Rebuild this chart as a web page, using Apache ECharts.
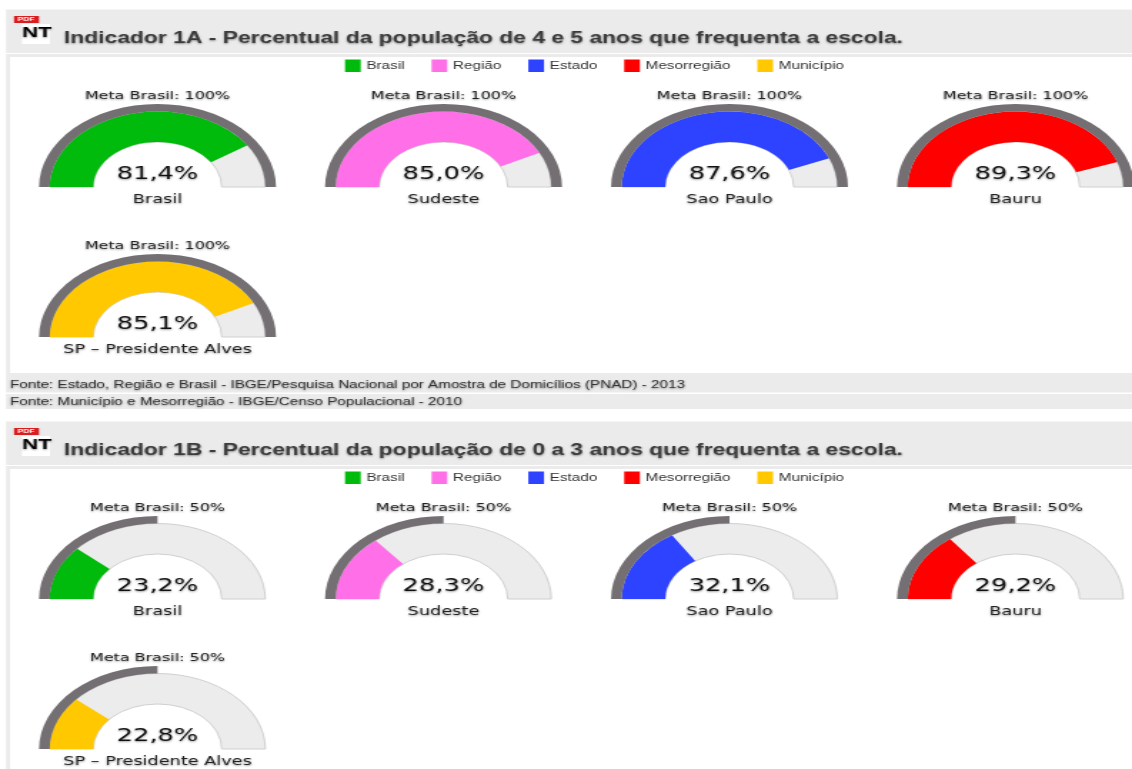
<!DOCTYPE html>
<html lang="pt">
<head>
    <meta charset="UTF-8">
    <title>Indicadores 1A e 1B</title>
    <script src="https://cdn.jsdelivr.net/npm/echarts@6/dist/echarts.min.js"></script>
    <style>
        html, body { margin: 0; padding: 0; background: #fff; overflow: hidden; width: 1132px; height: 769px; }
        /* o quadro original esta esticado na horizontal, por isso as meias-luas sao elipses */
        #main { width: 793px; height: 769px; transform: scaleX(1.4275); transform-origin: 0 0; }
    </style>
</head>
<body>
<div id="main"></div>
<script>
    var legendNames = ['Brasil', 'Região', 'Estado', 'Mesorregião', 'Município'];
    var places = ['Brasil', 'Sudeste', 'Sao Paulo', 'Bauru', 'SP – Presidente Alves'];
    var colors = ['#00bb0b', '#ff70e8', '#2d43ff', '#ff0000', '#ffc800'];
    var values1A = [81.4, 85.0, 87.6, 89.3, 85.1];
    var values1B = [23.2, 28.3, 32.1, 29.2, 22.8];
    var meta1A = 100;
    var meta1B = 50;
    var title1A = 'Indicador 1A - Percentual da população de 4 e 5 anos que frequenta a escola.';
    var title1B = 'Indicador 1B - Percentual da população de 0 a 3 anos que frequenta a escola.';
    var fontes1A = [
        'Fonte: Estado, Região e Brasil - IBGE/Pesquisa Nacional por Amostra de Domicílios (PNAD) - 2013',
        'Fonte: Município e Mesorregião - IBGE/Censo Populacional - 2010'
    ];

    var sx = 1.4275; // mesmo valor do scaleX do css
    var R_META = 83, R_TRACK = 75.5, R_HOLE = 45;
    var shadow = { textShadowColor: 'rgba(0,0,0,0.4)', textShadowBlur: 2, textShadowOffsetY: 1 };

    var series = [];
    var graphic = [];
    var legends = [];

    function rect(x, y, w, h, fill) {
        graphic.push({ type: 'rect', silent: true, shape: { x: x / sx, y: y, width: w / sx, height: h }, style: { fill: fill } });
    }
    function text(x, y, str, font, fill, align) {
        graphic.push({
            type: 'text', silent: true, x: x / sx, y: y,
            style: Object.assign({ text: str, font: font, fill: fill, align: align || 'center', verticalAlign: 'middle' }, shadow)
        });
    }
    function icon(y) {
        rect(14, y + 6, 25, 7, '#d81e1e');
        graphic.push({ type: 'text', silent: true, x: 26 / sx, y: y + 9.5, style: { text: 'PDF', font: 'bold 6px "Liberation Sans"', fill: '#fff', align: 'center', verticalAlign: 'middle' } });
        rect(22, y + 14, 28, 20, '#fff');
        text(37, y + 23, 'NT', 'bold 15.5px "Liberation Sans"', '#000');
    }

    function section(top, titleStr, values, meta) {
        rect(6, top + 9.5, 1126, 43.5, '#ebebeb');
        rect(6, top + 54, 1126, 319, '#ebebeb');
        rect(10, top + 57, 1122, 316, '#fff');
        icon(top + 10);
        text(64, top + 39, titleStr, 'bold 16px "Liberation Sans"', '#3c3c3c', 'left');

        legends.push({
            data: legendNames, left: 345 / sx, top: top + 59.5, orient: 'horizontal',
            selectedMode: false, icon: 'rect', itemWidth: 11, itemHeight: 12.5, itemGap: 18.9, padding: 0,
            textStyle: { fontFamily: 'Liberation Sans', fontSize: 10.7, color: '#333', padding: [0, 0, 0, -1] }
        });

        values.forEach(function (v, i) {
            var cx = (157.5 + 286 * (i % 4)) / sx;
            var cy = top + 187 + 150 * Math.floor(i / 4);
            var common = { type: 'pie', center: [cx, cy], startAngle: 180, endAngle: 0, silent: true, animation: false, label: { show: false }, labelLine: { show: false } };

            // trilho cinza
            series.push(Object.assign({}, common, {
                radius: [R_HOLE, R_TRACK], z: 1,
                data: [{ value: 100, name: 'trilho', itemStyle: { color: '#ececec', borderColor: '#d0d0d0', borderWidth: 1 } }]
            }));
            // valor do indicador
            series.push(Object.assign({}, common, {
                radius: [R_HOLE, R_TRACK], z: 2,
                data: [
                    { value: v, name: legendNames[i], itemStyle: { color: colors[i] } },
                    { value: 100 - v, name: 'resto', itemStyle: { color: 'transparent' } }
                ]
            }));
            // anel da meta
            series.push(Object.assign({}, common, {
                radius: [R_TRACK, R_META], z: 3,
                data: [
                    { value: meta, name: 'meta', itemStyle: { color: '#746f72' } },
                    { value: 100 - meta, name: 'sem meta', itemStyle: { color: 'transparent' } }
                ]
            }));

            var tx = 157.5 + 286 * (i % 4);
            text(tx, cy - 91, 'Meta Brasil: ' + meta + '%', '11.2px "DejaVu Sans"', '#222');
            text(tx, cy - 13, v.toFixed(1).replace('.', ',') + '%', '18px "DejaVu Sans"', '#111');
            text(tx, cy + 13, places[i], '12.4px "DejaVu Sans"', '#222');
        });
    }

    section(0, title1A, values1A, meta1A);
    section(412, title1B, values1B, meta1B);

    // faixas da fonte ficam por cima do painel de baixo do 1A
    rect(6, 373, 1126, 48, '#fff');
    rect(6, 373, 1126, 19.5, '#ebebeb');
    rect(6, 394, 1126, 15, '#ebebeb');
    text(10, 385, fontes1A[0], '10.7px "Liberation Sans"', '#333', 'left');
    text(10, 402, fontes1A[1], '10.7px "Liberation Sans"', '#333', 'left');

    var myChart = echarts.init(document.getElementById('main'));
    myChart.setOption({
        animation: false,
        tooltip: { show: false },
        legend: legends,
        series: series,
        graphic: { elements: graphic }
    });
</script>
</body>
</html>
